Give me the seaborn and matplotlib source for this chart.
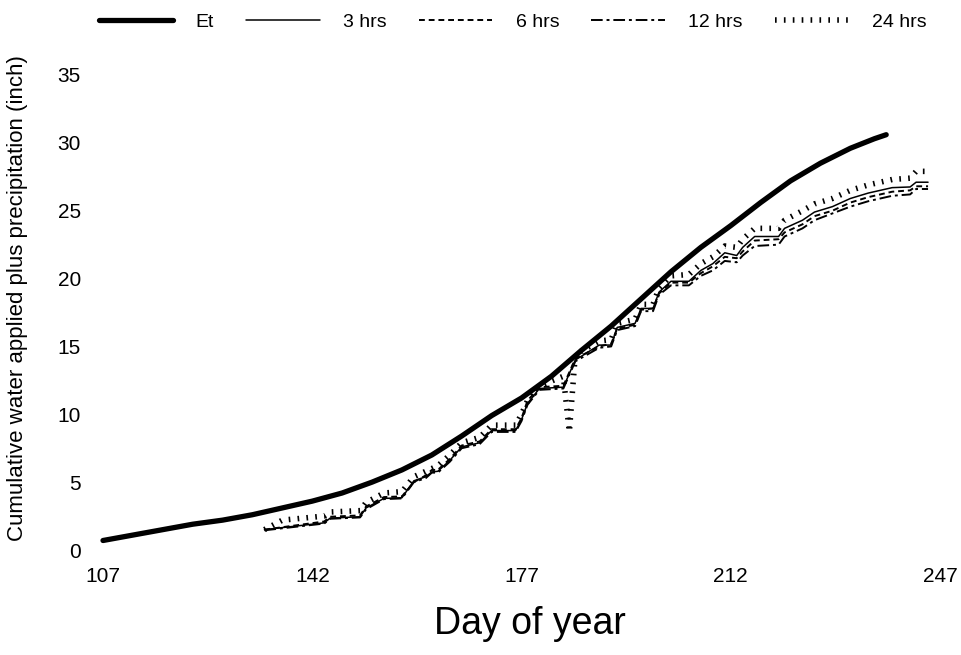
import pandas as pd
import matplotlib
matplotlib.use("Agg")
import matplotlib.pyplot as plt
import seaborn as sns

# Et-kurve (dag, tomme)
et_days = [107, 112, 117, 122, 127, 132, 137, 142, 147, 152, 157, 162, 167, 172,
           177, 182, 187, 192, 197, 202, 207, 212, 217, 222, 227, 232, 236, 238]
et_vals = [0.7, 1.1, 1.5, 1.9, 2.2, 2.6, 3.1, 3.6, 4.2, 5.0, 5.9, 7.0, 8.4, 9.9,
           11.2, 12.8, 14.7, 16.5, 18.5, 20.5, 22.3, 23.9, 25.6, 27.2, 28.5, 29.6, 30.3, 30.6]

# Vanning + nedbør for 3, 6 og 12 timers intervall
irr_days = [134, 144, 145, 150, 151, 154, 157, 159, 161, 162,
            163, 165, 167, 170, 172, 176, 177, 178, 180, 184,
            186, 190, 192, 193, 196, 197, 199, 200, 202, 205,
            207, 209, 211, 213, 214, 216, 220, 221, 224, 226,
            229, 232, 235, 239, 242, 243, 245]
hrs3 = [1.5, 2.0, 2.35, 2.45, 3.1, 3.8, 3.85, 5.1, 5.4, 5.75,
        5.8, 6.6, 7.6, 7.9, 8.8, 8.8, 9.6, 10.8, 11.9, 12.0,
        14.0, 15.1, 15.1, 16.4, 16.7, 17.8, 17.8, 19.0, 19.8, 19.8,
        20.6, 21.1, 21.9, 21.7, 22.3, 23.1, 23.1, 23.7, 24.3, 24.9,
        25.3, 25.9, 26.3, 26.7, 26.75, 27.1, 27.1]
hrs6 = [1.5, 2.1, 2.45, 2.55, 3.2, 3.9, 3.95, 5.0, 5.5, 5.9,
        5.9, 6.7, 7.7, 8.0, 8.9, 8.9, 9.7, 11.0, 12.0, 12.1,
        14.1, 15.0, 15.2, 16.3, 16.6, 17.7, 17.8, 18.9, 19.7, 19.7,
        20.4, 20.9, 21.6, 21.5, 22.0, 22.8, 22.9, 23.4, 24.0, 24.6,
        25.0, 25.6, 26.0, 26.4, 26.5, 26.8, 26.8]
hrs12 = [1.45, 1.95, 2.3, 2.4, 3.0, 3.75, 3.8, 5.0, 5.3, 5.7,
         5.7, 6.5, 7.5, 7.8, 8.7, 8.7, 9.5, 10.7, 11.8, 11.9,
         13.9, 14.9, 15.0, 16.2, 16.5, 17.6, 17.6, 18.8, 19.5, 19.5,
         20.2, 20.6, 21.3, 21.2, 21.7, 22.4, 22.5, 23.1, 23.7, 24.3,
         24.8, 25.3, 25.7, 26.1, 26.2, 26.6, 26.6]

# 24 timer har egen dagliste (med dippen rundt dag 185)
days24 = [134, 137, 144, 145, 150, 151, 154, 157, 159, 161,
          163, 165, 167, 170, 172, 176, 177, 178, 180, 184,
          185, 186, 190, 192, 193, 196, 197, 199, 200, 202,
          205, 207, 209, 211, 213, 214, 216, 220, 221, 224,
          226, 229, 232, 235, 239, 242, 243, 245]
hrs24 = [1.5, 2.2, 2.5, 2.8, 2.9, 3.5, 4.2, 4.3, 5.4, 5.8,
         6.2, 7.0, 7.9, 8.3, 9.2, 9.2, 10.0, 11.0, 12.1, 12.8,
         8.7, 14.4, 15.4, 15.5, 16.7, 17.0, 18.1, 18.1, 19.3, 20.2,
         20.3, 21.1, 21.6, 22.4, 22.3, 22.9, 23.7, 23.7, 24.3, 25.0,
         25.5, 25.9, 26.5, 26.9, 27.3, 27.4, 27.9, 27.9]

x_ticks = [107, 142, 177, 212, 247]
y_ticks = [0, 5, 10, 15, 20, 25, 30, 35]

sns.set_style("white")
plt.rcParams["font.family"] = ["Liberation Sans", "DejaVu Sans"]
plt.rcParams["text.color"] = "black"

fig = plt.figure(figsize=(9.61, 6.55), dpi=100)
ax = fig.add_axes([103 / 961, 105 / 655, 837 / 961, 475 / 655])

sns.lineplot(x=et_days, y=et_vals, ax=ax, color="black", linewidth=3.8,
             solid_capstyle="round", label="Et", clip_on=False)
sns.lineplot(x=irr_days, y=hrs3, ax=ax, color="black", linewidth=1.1, label="3 hrs")
sns.lineplot(x=irr_days, y=hrs6, ax=ax, color="black", linewidth=1.4,
             linestyle=(0, (3, 2)), label="6 hrs")
sns.lineplot(x=irr_days, y=hrs12, ax=ax, color="black", linewidth=1.4,
             linestyle=(0, (6, 2, 1.5, 2)), label="12 hrs")
sns.lineplot(x=days24, y=hrs24, ax=ax, color="black", linewidth=4.0,
             linestyle=(0, (0.3, 1.3)), dash_capstyle="butt", label="24 hrs")

ax.set_xlim(107, 247)
ax.set_ylim(0, 35)
ax.set_xticks(x_ticks)
ax.set_yticks(y_ticks)
ax.tick_params(axis="both", length=0, labelsize=15, labelcolor="black")
ax.tick_params(axis="y", pad=16)
ax.tick_params(axis="x", pad=12)
sns.despine(ax=ax, left=True, bottom=True)

ax.set_xlabel("Day of year", fontsize=27, color="black")
ax.xaxis.set_label_coords(0.51, -0.118)
ax.set_ylabel("Cumulative water applied plus precipitation (inch)", fontsize=16, color="black")
ax.yaxis.set_label_coords(-0.09, 0.53)

handles, labels = ax.get_legend_handles_labels()
ax.get_legend().remove()
fig.legend(handles, labels, ncol=5, loc="upper left", mode="expand",
           bbox_to_anchor=(85 / 961, 1.0, 855 / 961, 0.0), bbox_transform=fig.transFigure,
           frameon=False, fontsize=14, handlelength=3.8, handletextpad=1.2,
           borderaxespad=0.3, columnspacing=1.0)

fig.savefig("out.png", dpi=100, facecolor="white")
